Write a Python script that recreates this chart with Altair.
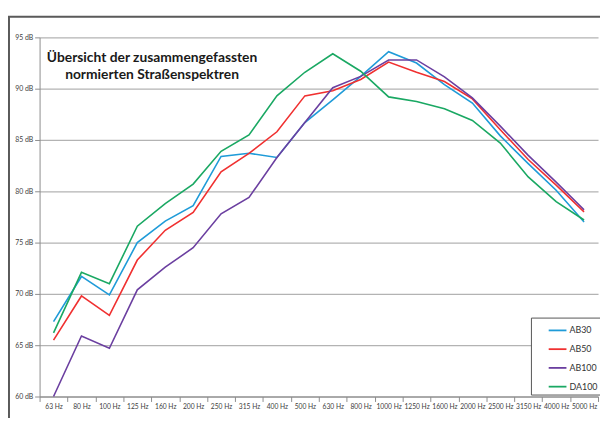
import altair as alt
import pandas as pd

freqs = ["63 Hz", "80 Hz", "100 Hz", "125 Hz", "160 Hz", "200 Hz", "250 Hz", "315 Hz",
         "400 Hz", "500 Hz", "630 Hz", "800 Hz", "1000 Hz", "1250 Hz", "1600 Hz",
         "2000 Hz", "2500 Hz", "3150 Hz", "4000 Hz", "5000 Hz"]
series_names = ["AB30", "AB50", "AB100", "DA100"]
ab30 = [67.3, 71.7, 69.9, 75.0, 77.1, 78.6, 83.4, 83.7, 83.3, 86.7, 88.9, 91.2,
        93.6, 92.5, 90.4, 88.6, 85.4, 82.7, 80.1, 77.0]
ab50 = [65.5, 69.8, 67.9, 73.3, 76.2, 77.95, 81.9, 83.7, 85.8, 89.3, 89.8, 90.9,
        92.6, 91.6, 90.7, 89.0, 86.0, 83.1, 80.6, 78.0]
ab100 = [60.0, 65.9, 64.7, 70.4, 72.6, 74.5, 77.8, 79.4, 83.3, 86.7, 90.1, 91.2,
         92.8, 92.8, 91.15, 89.1, 86.35, 83.5, 80.9, 78.2]
da100 = [66.2, 72.1, 71.0, 76.6, 78.8, 80.7, 83.9, 85.5, 89.3, 91.6, 93.4, 91.7,
         89.2, 88.75, 88.05, 86.9, 84.7, 81.4, 79.0, 77.2]
y_ticks = [60, 65, 70, 75, 80, 85, 90, 95]
colors = ["#1f9bd8", "#f03030", "#6b3fa0", "#1aa863"]
title_lines = ["Übersicht der zusammengefassten", "normierten Straßenspektren"]

rows = []
for name, vals in zip(series_names, [ab30, ab50, ab100, da100]):
    for f, v in zip(freqs, vals):
        rows.append({"freq": f, "series": name, "level": v})
df = pd.DataFrame(rows)

lines = alt.Chart(df).mark_line(strokeWidth=1.6).encode(
    x=alt.X("freq:N", sort=freqs,
            scale=alt.Scale(type="band", paddingInner=0, paddingOuter=0),
            axis=alt.Axis(title=None, labelAngle=0, tickBand="extent", grid=False,
                          labelFont="Lato", labelFontSize=6.8, labelColor="#404040",
                          domainColor="#8c8c8c", tickColor="#8c8c8c", tickSize=5,
                          labelPadding=2)),
    y=alt.Y("level:Q", scale=alt.Scale(domain=[60, 95], nice=False, zero=False),
            axis=alt.Axis(title=None, values=y_ticks, labelExpr="datum.value + ' dB'",
                          grid=True, gridColor="#b3b3b3", gridWidth=1.3,
                          labelFont="Lato", labelFontSize=7, labelColor="#404040",
                          domainColor="#8c8c8c", tickColor="#8c8c8c", tickSize=5,
                          labelPadding=2)),
    color=alt.Color("series:N", scale=alt.Scale(domain=series_names, range=colors),
                    legend=alt.Legend(title=None, orient="none", legendX=498, legendY=284,
                                      symbolType="stroke", symbolSize=324,
                                      symbolStrokeWidth=1.8, labelFont="Lato",
                                      labelFontSize=9, labelColor="#333333",
                                      strokeColor="#555555", fillColor="white",
                                      padding=3, rowPadding=4, symbolOffset=14,
                                      labelOffset=2, cornerRadius=0)),
)

frame = alt.Chart(pd.DataFrame({"a": [0]})).mark_rect(
    fillOpacity=0, stroke="#5a5a5a", strokeWidth=2
).encode(x=alt.value(-31), x2=alt.value(700), y=alt.value(-21), y2=alt.value(500))

chart = alt.layer(frame, lines).properties(
    width=566, height=364,
    autosize="none",
    padding={"left": 32, "top": 27, "right": 2, "bottom": 19},
    title=alt.TitleParams(text=title_lines, anchor="start", align="center", dx=146, dy=67,
                          baseline="top", offset=0, fontSize=14, font="Lato",
                          fontWeight="bold", color="#1a1a1a", lineHeight=17),
).configure_view(strokeWidth=0)

chart.save("out.html", embed_options={"renderer": "svg", "actions": False})
